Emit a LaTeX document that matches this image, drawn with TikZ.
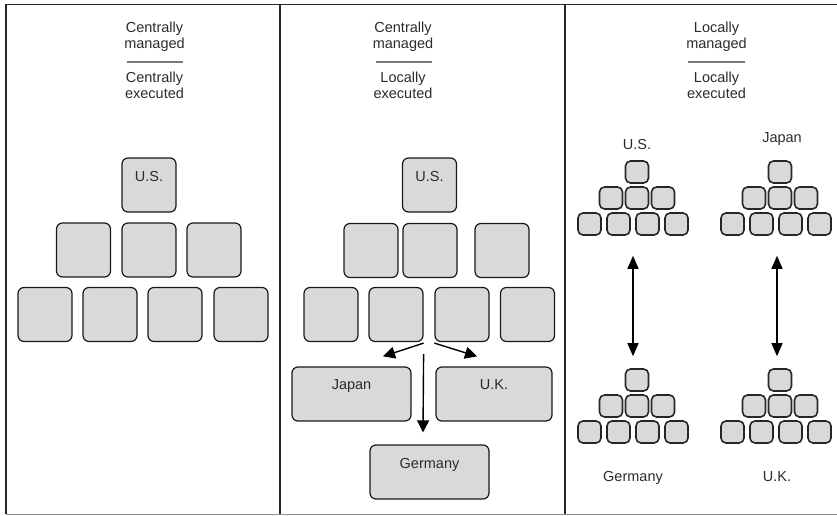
\documentclass[tikz,border=0pt]{standalone}
\usepackage{fontspec}
\setmainfont{Liberation Sans}
\usetikzlibrary{arrows.meta,positioning}
\definecolor{UnitFill}{HTML}{D9D9D9}
\definecolor{UnitText}{HTML}{2B2B2B}
\definecolor{RuleGray}{HTML}{7A7A7A}

\begin{document}
\begin{tikzpicture}[
  x=1pt,y=-1pt,
  font=\fontsize{14.5}{16.5}\selectfont,
  unitbox/.style={draw=black!90,line width=1.2pt,rounded corners=6pt,fill=UnitFill,text=UnitText,minimum width=54pt,minimum height=54pt,text depth=18pt,inner sep=2pt},
  widebox/.style={unitbox,minimum width=119pt},
  tinybox/.style={draw=black!85,line width=1.6pt,rounded corners=5pt,fill=UnitFill,minimum width=23pt,minimum height=22pt,inner sep=0pt},
  headtext/.style={anchor=base,inner sep=0pt,text=UnitText},
  headrule/.style={draw=RuleGray,line width=1.4pt},
  flow/.style={line width=1.4pt,-{Triangle[length=12pt,width=12pt]}},
  swap/.style={line width=1.4pt,{Triangle[length=13pt,width=11pt]}-{Triangle[length=13pt,width=11pt]}}
]
\useasboundingbox (0,0) rectangle (837,516);

% frame and panel dividers
\draw[line width=1.2pt,black!85] (837,4.5) -- (6,4.5) -- (6,514);
\draw[line width=1.2pt,black!85] (280,4.5) -- (280,514);
\draw[line width=1.2pt,black!85] (565,4.5) -- (565,514);
\draw[line width=1pt,black!45] (6,514) -- (837,514);

% panel titles
\node[headtext] (h1a) at (154.5,33) {Centrally};
\node[headtext] (h1b) at (154.5,49) {managed};
\draw[headrule] (127,62) -- (183,62);
\node[headtext] (h1c) at (154.5,83) {Centrally};
\node[headtext] (h1d) at (154.5,99) {executed};

\node[headtext] (h2a) at (403,33) {Centrally};
\node[headtext] (h2b) at (403,49) {managed};
\draw[headrule] (376,62) -- (432,62);
\node[headtext] (h2c) at (403,83) {Locally};
\node[headtext] (h2d) at (403,99) {executed};

\node[headtext] (h3a) at (716.5,33) {Locally};
\node[headtext] (h3b) at (716.5,49) {managed};
\draw[headrule] (688,62) -- (745,62);
\node[headtext] (h3c) at (716.5,83) {Locally};
\node[headtext] (h3d) at (716.5,99) {executed};

% centrally executed
\node[unitbox] (p1us) at (149,185) {U.S.};
\node[unitbox] (p1r2a) at (83.5,250) {};
\node[unitbox] (p1r2b) at (149,250) {};
\node[unitbox] (p1r2c) at (214,250) {};
\node[unitbox] (p1r3a) at (45,314.5) {};
\node[unitbox] (p1r3b) at (110,314.5) {};
\node[unitbox] (p1r3c) at (175,314.5) {};
\node[unitbox] (p1r3d) at (241,314.5) {};

% locally executed
\node[unitbox] (p2us) at (429.5,185) {U.S.};
\node[unitbox] (p2r2a) at (371,250.5) {};
\node[unitbox] (p2r2b) at (430,250.5) {};
\node[unitbox] (p2r2c) at (502,250.5) {};
\node[unitbox] (p2r3a) at (331,314.5) {};
\node[unitbox] (p2r3b) at (396,314.5) {};
\node[unitbox] (p2r3c) at (462,314.5) {};
\node[unitbox] (p2r3d) at (527.5,314.5) {};
\node[widebox] (p2jp) at (351.5,394) {Japan};
\node[widebox,minimum width=116pt] (p2uk) at (494,394) {U.K.};
\node[widebox] (p2de) at (429.5,472) {Germany};

\draw[flow] ([yshift=-1pt]p2r3b.south east) -- ([xshift=31.5pt,yshift=10pt]p2jp.north);
\draw[flow] ([yshift=-1pt]p2r3c.south west) -- ([xshift=-17pt,yshift=10pt]p2uk.north);
\draw[flow] ([yshift=-12pt]p2r3b.south east) -- ([xshift=-6.5pt,yshift=12pt]p2de.north);

% locally managed: one small pyramid per country
\foreach \pname/\px/\py in {us/637/172, jp/780/172, de/637/380, uk/780/380} {
  \node[tinybox] (\pname0) at (\px,\py) {};
  \foreach \dx [count=\i] in {-26,0,26}
    \node[tinybox] (\pname1\i) at (\px+\dx,\py+26) {};
  \foreach \dx [count=\i] in {-47.5,-18.5,10.5,39.5}
    \node[tinybox] (\pname2\i) at (\px+\dx,\py+52) {};
}
\node[headtext] (lbus) at (637,149) {U.S.};
\node[headtext] (lbjp) at (782,142) {Japan};
\node[headtext] (lbde) at (633,481) {Germany};
\node[headtext] (lbuk) at (777,481) {U.K.};

\draw[swap] ([xshift=-4pt,yshift=-72pt]us0.south) -- ([xshift=-4pt,yshift=12pt]de0.north);
\draw[swap] ([xshift=-3pt,yshift=-72pt]jp0.south) -- ([xshift=-3pt,yshift=12pt]uk0.north);
\end{tikzpicture}
\end{document}
